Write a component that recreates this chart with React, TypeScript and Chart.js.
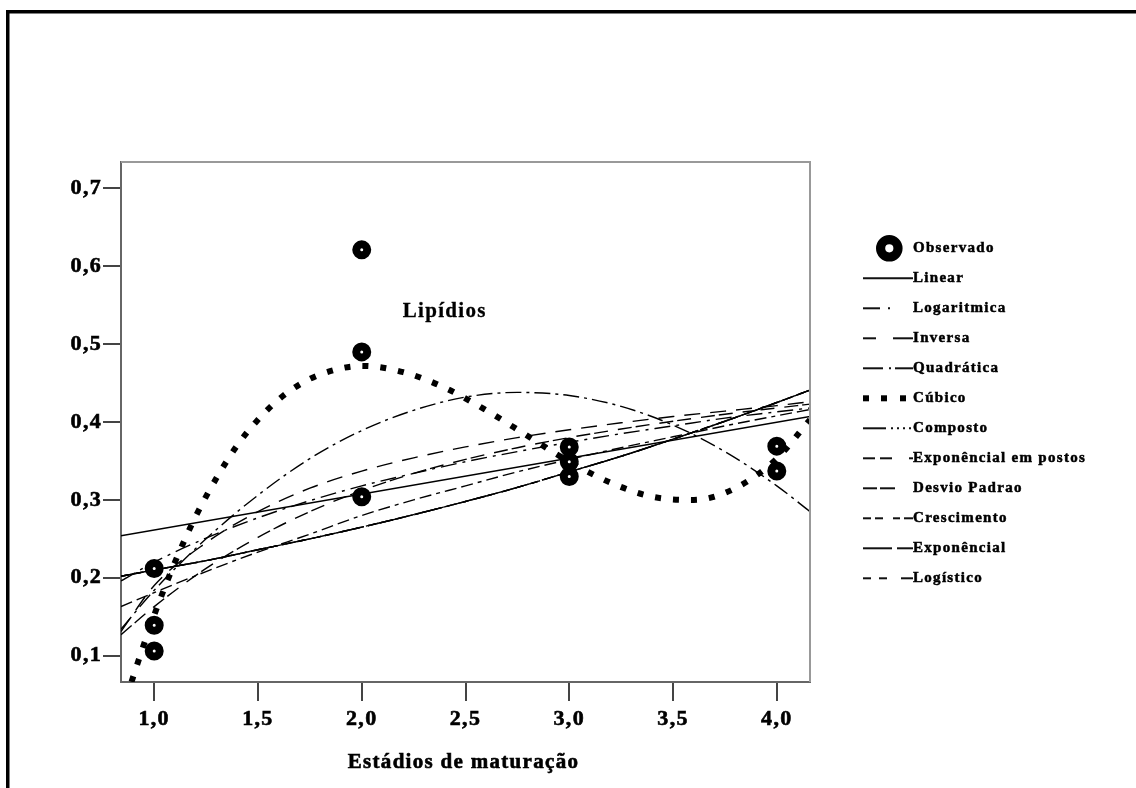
import React, { useEffect, useRef } from 'react';
import { Chart, registerables } from 'chart.js';

Chart.register(...registerables);

const FONT = "'Liberation Serif', 'Times New Roman', serif";

// ---- axes ----
const X_TICKS = [1, 1.5, 2, 2.5, 3, 3.5, 4];
const Y_TICKS = [0.1, 0.2, 0.3, 0.4, 0.5, 0.6, 0.7];
const X_MIN = 0.84;
const X_MAX = 4.16;
const Y_MIN = 0.0662;
const Y_MAX = 0.7338;
const X_TITLE = 'Estádios de maturação';
const ANNOTATION = 'Lipídios';
const ANNOT_X = 2.4;
const ANNOT_Y = 0.542;

// ---- observed values ----
const OBS_X = [1, 1, 1, 2, 2, 2, 3, 3, 3, 4, 4];
const OBS_Y = [0.212, 0.139, 0.106, 0.621, 0.49, 0.304, 0.368, 0.349, 0.33, 0.369, 0.337];

// ---- fitted curves ----
const CURVE_X = [0.84, 1.0, 1.25, 1.5, 1.75, 2.0, 2.25, 2.5, 2.75, 3.0, 3.25, 3.5, 3.75, 4.0, 4.16];
const LINEAR_X = [0.84, 4.16];
const LINEAR_Y = [0.254, 0.407];
const LOG_Y = [0.196, 0.22, 0.251, 0.277, 0.299, 0.318, 0.334, 0.349, 0.362, 0.374, 0.385, 0.395, 0.405, 0.413, 0.418];
const INVERSE_Y = [0.131, 0.19, 0.245, 0.285, 0.315, 0.337, 0.354, 0.368, 0.38, 0.39, 0.399, 0.407, 0.414, 0.421, 0.426];
const QUADRATIC_Y = [0.134, 0.184, 0.25, 0.306, 0.353, 0.389, 0.415, 0.432, 0.438, 0.434, 0.42, 0.396, 0.362, 0.318, 0.285];
const CUBIC_X = [0.84, 0.9, 1.0, 1.1, 1.2, 1.3, 1.4, 1.5, 1.6, 1.7, 1.8, 2.0, 2.2, 2.4, 2.6, 2.8, 3.0, 3.2, 3.4, 3.6, 3.8, 4.0, 4.16];
const CUBIC_Y = [0.022, 0.074, 0.152, 0.22, 0.279, 0.328, 0.37, 0.403, 0.429, 0.448, 0.461, 0.472, 0.464, 0.444, 0.415, 0.382, 0.349, 0.322, 0.304, 0.3, 0.315, 0.353, 0.403];
const COMPOUND_Y = [0.202, 0.21, 0.222, 0.236, 0.25, 0.265, 0.281, 0.298, 0.316, 0.336, 0.356, 0.378, 0.401, 0.425, 0.441];
const POWER_Y = [0.163, 0.181, 0.208, 0.233, 0.256, 0.28, 0.3, 0.318, 0.336, 0.352, 0.367, 0.381, 0.395, 0.408, 0.416];
const S_Y = [0.127, 0.163, 0.212, 0.252, 0.285, 0.312, 0.334, 0.352, 0.367, 0.38, 0.391, 0.401, 0.41, 0.418, 0.423];
const GROWTH_Y = [0.202, 0.21, 0.222, 0.236, 0.25, 0.265, 0.281, 0.298, 0.316, 0.336, 0.356, 0.378, 0.401, 0.425, 0.441];
const EXPONENTIAL_Y = [0.202, 0.21, 0.222, 0.236, 0.25, 0.265, 0.281, 0.298, 0.316, 0.336, 0.356, 0.378, 0.401, 0.425, 0.441];
const LOGISTIC_Y = [0.202, 0.21, 0.222, 0.236, 0.25, 0.265, 0.281, 0.298, 0.316, 0.336, 0.356, 0.378, 0.401, 0.425, 0.441];

const LEGEND_LABELS = [
  'Observado',
  'Linear',
  'Logaritmica',
  'Inversa',
  'Quadrática',
  'Cúbico',
  'Composto',
  'Exponêncial em postos',
  'Desvio Padrao',
  'Crescimento',
  'Exponêncial',
  'Logístico',
];

// legend sample segments (offsets along a 50px sample), style only
const LEGEND_SEGMENTS: number[][][] = [
  [],
  [[0, 50]],
  [[0, 17], [25, 27]],
  [[0, 13], [30, 50]],
  [[0, 20], [26, 28], [32, 50]],
  [],
  [[0, 23], [28, 30], [34, 36], [40, 42], [46, 48]],
  [[0, 12], [17, 29], [46, 50]],
  [[0, 14], [17, 32]],
  [[0, 8], [12, 20], [30, 37], [41, 50]],
  [[0, 29], [34, 50]],
  [[0, 8], [16, 24], [38, 50]],
];

const pts = (xs: number[], ys: number[]) => xs.map((x, i) => ({ x, y: ys[i] }));

const curve = (label: string, xs: number[], ys: number[], dash: number[], width = 1.4) => ({
  label,
  data: pts(xs, ys),
  showLine: true,
  pointRadius: 0,
  pointHoverRadius: 0,
  borderColor: '#000',
  backgroundColor: '#000',
  borderWidth: width,
  borderDash: dash,
  borderCapStyle: 'butt',
  fill: false,
  cubicInterpolationMode: 'monotone',
  clip: 0,
});

const boldText = (ctx: any, text: string, x: number, y: number, sw: number) => {
  if (sw > 0) {
    ctx.lineWidth = sw;
    ctx.strokeStyle = '#000';
    ctx.setLineDash([]);
    ctx.strokeText(text, x, y);
  }
  ctx.fillStyle = '#000';
  ctx.fillText(text, x, y);
};

const framePlugin = {
  id: 'framePlugin',
  beforeLayout(chart: any) {
    (chart.ctx as any).letterSpacing = '1.3px';
  },
  beforeDraw(chart: any) {
    const ctx = chart.ctx;
    (ctx as any).letterSpacing = '1.3px';
    ctx.save();
    ctx.fillStyle = '#fff';
    ctx.fillRect(0, 0, chart.width, chart.height);
    ctx.fillStyle = '#000';
    ctx.fillRect(6, 10, chart.width - 6, 3.5);
    ctx.fillRect(6, 10, 3.5, chart.height - 10);
    ctx.restore();
  },
  afterDraw(chart: any) {
    const ctx = chart.ctx;
    const a = chart.chartArea;
    ctx.save();
    (ctx as any).letterSpacing = '1.3px';
    // top and right frame of plot area
    ctx.strokeStyle = '#999';
    ctx.lineWidth = 2;
    ctx.setLineDash([]);
    ctx.beginPath();
    ctx.moveTo(a.left, a.top);
    ctx.lineTo(a.right, a.top);
    ctx.lineTo(a.right, a.bottom);
    ctx.stroke();

    const xs = chart.scales.x;
    const ys = chart.scales.y;

    // x axis title
    ctx.font = `bold 21px ${FONT}`;
    ctx.textAlign = 'center';
    ctx.textBaseline = 'middle';
    boldText(ctx, X_TITLE, (a.left + a.right) / 2 - 2, 763, 0.6);

    // annotation
    ctx.font = `bold 21px ${FONT}`;
    boldText(ctx, ANNOTATION, xs.getPixelForValue(ANNOT_X), ys.getPixelForValue(ANNOT_Y), 0.3);

    // legend
    const lx = 863;
    const tx = 913;
    ctx.font = `bold 15px ${FONT}`;
    ctx.textAlign = 'left';
    LEGEND_LABELS.forEach((label, i) => {
      const y = 248.3 + i * 30;
      ctx.strokeStyle = '#111';
      ctx.fillStyle = '#000';
      ctx.setLineDash([]);
      if (i === 0) {
        ctx.beginPath();
        ctx.arc(889.3, y, 8.7, 0, Math.PI * 2);
        ctx.fillStyle = '#fff';
        ctx.fill();
        ctx.lineWidth = 9.2;
        ctx.strokeStyle = '#000';
        ctx.stroke();
      } else if (i === 5) {
        ctx.fillStyle = '#000';
        [0, 18, 37].forEach((o) => ctx.fillRect(lx + o, y - 3, 6, 6));
      } else {
        ctx.lineWidth = 2;
        LEGEND_SEGMENTS[i].forEach(([s, e]) => {
          ctx.beginPath();
          ctx.moveTo(lx + s, y);
          ctx.lineTo(lx + e, y);
          ctx.stroke();
        });
      }
      boldText(ctx, label, tx, y, 0.5);
    });
    ctx.restore();
  },
};

const fmt = (v: any) => Number(v).toFixed(1).replace('.', ',');

export default function App() {
  const ref = useRef<HTMLCanvasElement | null>(null);

  useEffect(() => {
    if (!ref.current) return;
    const datasets: any[] = [
      {
        label: LEGEND_LABELS[0],
        data: pts(OBS_X, OBS_Y),
        showLine: false,
        pointStyle: 'circle',
        pointRadius: 5.5,
        pointHoverRadius: 5.5,
        pointBorderWidth: 8,
        borderWidth: 8,
        borderColor: '#000',
        backgroundColor: '#fff',
        clip: false,
      },
      curve(LEGEND_LABELS[1], LINEAR_X, LINEAR_Y, []),
      curve(LEGEND_LABELS[2], CURVE_X, LOG_Y, [16, 6, 3, 6]),
      curve(LEGEND_LABELS[3], CURVE_X, INVERSE_Y, [16, 10]),
      curve(LEGEND_LABELS[4], CURVE_X, QUADRATIC_Y, [16, 5, 3, 5]),
      curve(LEGEND_LABELS[5], CUBIC_X, CUBIC_Y, [6, 12], 6),
      curve(LEGEND_LABELS[6], CURVE_X, COMPOUND_Y, [22, 4, 2, 4, 2, 4, 2, 4]),
      curve(LEGEND_LABELS[7], CURVE_X, POWER_Y, [12, 5, 12, 5, 4, 5]),
      curve(LEGEND_LABELS[8], CURVE_X, S_Y, [14, 4, 14, 10]),
      curve(LEGEND_LABELS[9], CURVE_X, GROWTH_Y, [8, 4, 8, 8]),
      curve(LEGEND_LABELS[10], CURVE_X, EXPONENTIAL_Y, [28, 4, 14, 4]),
      curve(LEGEND_LABELS[11], CURVE_X, LOGISTIC_Y, [8, 7]),
    ];

    const tickFont = { family: FONT, size: 22, weight: 'bold' };

    const chart = new Chart(ref.current, {
      type: 'scatter',
      data: { datasets },
      plugins: [framePlugin],
      options: {
        responsive: false,
        devicePixelRatio: 1,
        animation: false,
        events: [],
        layout: { padding: { left: 0, top: 162, right: 326, bottom: 0 } },
        plugins: {
          legend: { display: false },
          tooltip: { enabled: false },
          title: { display: false },
        },
        scales: {
          x: {
            type: 'linear',
            min: X_MIN,
            max: X_MAX,
            afterBuildTicks: (s: any) => {
              s.ticks = X_TICKS.map((value) => ({ value }));
            },
            afterFit: (s: any) => {
              s.height = 106;
            },
            ticks: {
              autoSkip: false,
              maxRotation: 0,
              padding: 5,
              color: '#000',
              textStrokeColor: '#000',
              textStrokeWidth: 0.6,
              font: tickFont,
              callback: fmt,
            },
            grid: {
              drawOnChartArea: false,
              drawTicks: true,
              tickLength: 19,
              tickWidth: 2,
              tickColor: '#444',
              color: '#444',
              lineWidth: 2,
            },
            border: { display: true, color: '#666', width: 2 },
          },
          y: {
            type: 'linear',
            min: Y_MIN,
            max: Y_MAX,
            afterBuildTicks: (s: any) => {
              s.ticks = Y_TICKS.map((value) => ({ value }));
            },
            afterFit: (s: any) => {
              s.width = 121;
            },
            ticks: {
              autoSkip: false,
              padding: 1,
              color: '#000',
              textStrokeColor: '#000',
              textStrokeWidth: 0.6,
              font: tickFont,
              callback: fmt,
            },
            grid: {
              drawOnChartArea: false,
              drawTicks: true,
              tickLength: 18,
              tickWidth: 2,
              tickColor: '#444',
              color: '#444',
              lineWidth: 2,
            },
            border: { display: true, color: '#666', width: 2 },
          },
        },
      } as any,
    });
    return () => chart.destroy();
  }, []);

  return (
    <div style={{ position: 'fixed', left: 0, top: 0, width: 1136, height: 788, background: '#fff' }}>
      <canvas ref={ref} width={1136} height={788} style={{ display: 'block', width: 1136, height: 788 }} />
    </div>
  );
}
